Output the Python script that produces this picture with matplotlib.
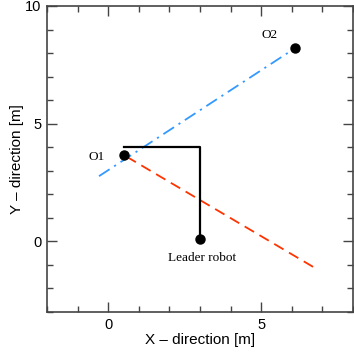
import matplotlib.pyplot as plt
from matplotlib.ticker import MultipleLocator

# points
o1 = (0.53, 3.67)
o2 = (6.1, 8.2)
leader = (3.0, 0.08)

# path of leader to corner
path_x = [0.53, 3.0, 3.0]
path_y = [4.0, 4.0, 0.08]

# dash-dot line through O2
blue_x = [-0.3, 6.1]
blue_y = [2.77, 8.2]

# dashed line from O1
red_x = [0.6, 6.8]
red_y = [3.6, -1.16]

plt.rcParams['font.family'] = ['Liberation Sans', 'DejaVu Sans']

fig = plt.figure(figsize=(3.54, 3.56), dpi=100)
ax = fig.add_axes([0.1328, 0.1236, 0.864, 0.8596])

ax.plot(blue_x, blue_y, color='#3399ff', lw=1.3, linestyle=(0, (7, 3, 1.2, 3)))
ax.plot(red_x, red_y, color='#ff3300', lw=1.3, linestyle=(0, (6, 3.5)))
ax.plot(path_x, path_y, color='black', lw=1.6)
ax.plot([o1[0], o2[0], leader[0]], [o1[1], o2[1], leader[1]], 'o', color='black', ms=6.5)

serif = ['Liberation Serif', 'DejaVu Serif']
ax.text(o1[0] - 0.9, o1[1] - 0.1, 'O1', family=serif, fontsize=9.5, ha='center', va='center')
ax.text(5.28, 8.77, 'O2', family=serif, fontsize=9.5, ha='center', va='center')
ax.text(3.08, -0.69, 'Leader robot', family=serif, fontsize=9.5, ha='center', va='center')

ax.set_xlim(-2, 8)
ax.set_ylim(-3, 10)
ax.xaxis.set_major_locator(MultipleLocator(5))
ax.yaxis.set_major_locator(MultipleLocator(5))
ax.xaxis.set_minor_locator(MultipleLocator(1))
ax.yaxis.set_minor_locator(MultipleLocator(1))
ax.tick_params(which='both', direction='in', top=True, right=True, width=1, color='#444444')
ax.tick_params(which='major', length=7, labelsize=10.5, pad=4)
ax.tick_params(which='minor', length=4)
for s in ax.spines.values():
    s.set_color('#444444')
    s.set_linewidth(1.2)

ax.set_xlabel('X – direction [m]', fontsize=11, labelpad=1)
ax.set_ylabel('Y – direction [m]', fontsize=11, labelpad=1)

fig.savefig('out.png', dpi=100)
